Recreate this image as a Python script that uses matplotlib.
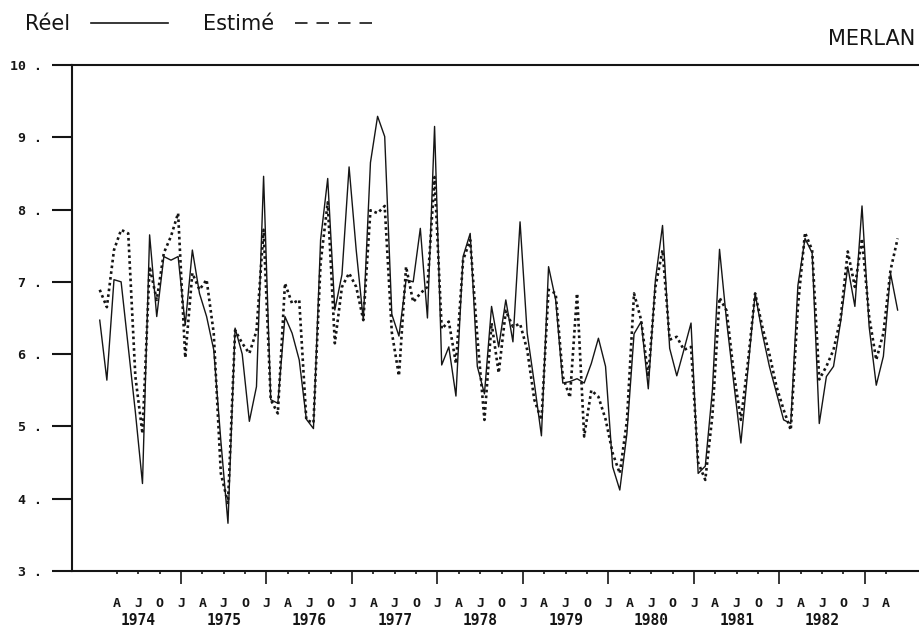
import matplotlib
matplotlib.use("Agg")
import matplotlib.pyplot as plt
from matplotlib.lines import Line2D
import numpy as np

# monthly values, Jan 1974 -> May 1983
reel = [
    6.47, 5.64, 7.03, 7.00, 6.10, 5.20, 4.21, 7.65, 6.52, 7.35, 7.30, 7.35,
    6.40, 7.44, 6.84, 6.52, 6.06, 4.80, 3.66, 6.36, 6.00, 5.07, 5.55, 8.46,
    5.37, 5.32, 6.52, 6.29, 5.92, 5.10, 4.97, 7.58, 8.43, 6.61, 7.10, 8.59,
    7.44, 6.47, 8.65, 9.29, 9.01, 6.55, 6.25, 7.03, 7.00, 7.74, 6.50, 9.15,
    5.85, 6.10, 5.42, 7.35, 7.67, 5.83, 5.45, 6.66, 6.10, 6.75, 6.17, 7.83,
    6.29, 5.60, 4.87, 7.21, 6.75, 5.60, 5.62, 5.66, 5.60, 5.87, 6.22, 5.83,
    4.44, 4.12, 4.90, 6.28, 6.45, 5.52, 7.03, 7.78, 6.08, 5.70, 6.06, 6.43,
    4.35, 4.45, 5.50, 7.45, 6.45, 5.60, 4.77, 5.80, 6.84, 6.29, 5.83, 5.46,
    5.09, 5.04, 6.95, 7.60, 7.40, 5.04, 5.69, 5.83, 6.45, 7.21, 6.66, 8.05,
    6.38, 5.57, 5.97, 7.12, 6.61,
]
estime = [
    6.89, 6.65, 7.44, 7.72, 7.67, 5.69, 4.90, 7.21, 6.75, 7.40, 7.63, 7.95,
    5.95, 7.12, 6.89, 7.03, 6.29, 4.35, 3.94, 6.33, 6.15, 6.01, 6.32, 7.72,
    5.37, 5.18, 6.98, 6.70, 6.75, 5.09, 5.05, 7.26, 8.10, 6.15, 6.93, 7.12,
    6.93, 6.47, 7.99, 7.95, 8.05, 6.30, 5.70, 7.21, 6.72, 6.84, 6.93, 8.45,
    6.35, 6.45, 5.87, 7.30, 7.58, 6.24, 5.09, 6.43, 5.74, 6.60, 6.38, 6.42,
    6.06, 5.37, 5.09, 6.89, 6.84, 5.69, 5.40, 6.84, 4.86, 5.50, 5.41, 5.10,
    4.63, 4.35, 5.08, 6.84, 6.47, 5.69, 6.93, 7.44, 6.20, 6.24, 6.06, 6.10,
    4.50, 4.26, 5.15, 6.78, 6.60, 5.74, 5.09, 5.90, 6.84, 6.38, 6.00, 5.55,
    5.23, 4.95, 6.66, 7.68, 7.44, 5.65, 5.83, 6.06, 6.50, 7.42, 6.93, 7.60,
    6.52, 5.92, 6.29, 7.16, 7.60,
]
years = [1974, 1975, 1976, 1977, 1978, 1979, 1980, 1981, 1982]
quarter_letters = ["J", "A", "J", "O"]
y_ticks = [3, 4, 5, 6, 7, 8, 9, 10]

ink = "#151515"
mono = "DejaVu Sans Mono"

# x in months since Jan 1974, points sit mid-month
months = np.arange(len(reel)) + 0.6

fig = plt.figure(figsize=(9.19, 6.28), dpi=100)
ax = fig.add_axes([0.0783, 0.0908, 0.9217, 0.8057])

ax.plot(months, reel, color=ink, lw=1.0)
ax.plot(months, estime, color=ink, lw=1.9, linestyle=(0, (1.0, 1.2)))

ax.set_xlim(-3.3, 115.6)
ax.set_ylim(3, 10)

# quarter ticks: January = major (long), Apr/Jul/Oct = minor (short)
major = [m for m in range(3, 112, 3) if m % 12 == 0]
minor = [m for m in range(3, 112, 3) if m % 12 != 0]
ax.set_xticks(major)
ax.set_xticklabels([quarter_letters[0]] * len(major))
ax.set_xticks(minor, minor=True)
ax.set_xticklabels([quarter_letters[(m % 12) // 3] for m in minor], minor=True)

ax.set_yticks(y_ticks)
ax.set_yticklabels([f"{v} ." for v in y_ticks])

ax.tick_params(axis="x", which="major", length=9, width=1.2, pad=9.5,
               color=ink, labelcolor=ink, labelsize=9.5)
ax.tick_params(axis="x", which="minor", length=2.5, width=1.2, pad=16,
               color=ink, labelcolor=ink, labelsize=9.5)
ax.tick_params(axis="y", length=14.5, width=1.5, pad=7,
               color=ink, labelcolor=ink, labelsize=9.5)
for lab in ax.get_xticklabels(which="both") + ax.get_yticklabels():
    lab.set_family(mono)
    lab.set_fontweight("bold")

for k, yr in enumerate(years):
    ax.text(6 + 12 * k, -0.097, str(yr), transform=ax.get_xaxis_transform(),
            ha="center", va="center", family=mono, fontweight="bold",
            fontsize=10.5, color=ink)

ax.spines["right"].set_visible(False)
for side in ("left", "bottom", "top"):
    ax.spines[side].set_linewidth(1.5)
    ax.spines[side].set_color(ink)

handles = [
    Line2D([], [], color=ink, lw=1.2),
    Line2D([], [], color=ink, lw=1.2, linestyle=(0, (7.5, 5.4))),
]
fig.legend(handles, ["Réel", "Estimé"], loc="upper left",
           bbox_to_anchor=(25 / 919, 0.978), ncol=2, markerfirst=False,
           frameon=False, handlelength=3.7, handletextpad=1.0,
           columnspacing=1.7, borderpad=0, borderaxespad=0,
           prop={"family": "DejaVu Sans", "size": 15}, labelcolor=ink)

fig.text(915 / 919, 1 - 45 / 628, "MERLAN", ha="right", va="baseline",
         family="DejaVu Sans", fontsize=15, color=ink)

fig.savefig("out.png", dpi=100, facecolor="white")
